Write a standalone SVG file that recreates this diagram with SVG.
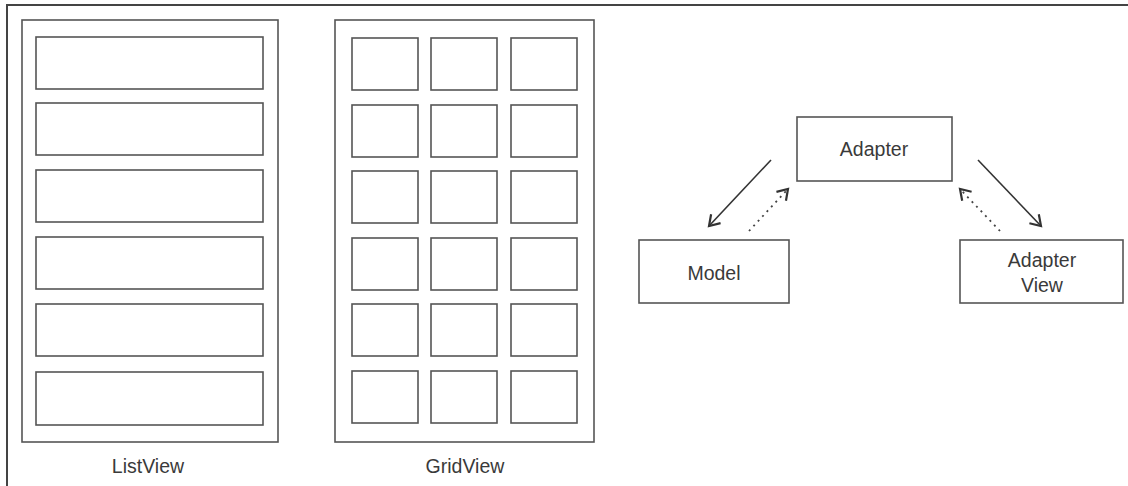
<svg xmlns="http://www.w3.org/2000/svg" width="1128" height="486" viewBox="0 0 1128 486">
<style>
.frame{fill:none;stroke:#444;stroke-width:2}
.box{fill:#fff;stroke:#555;stroke-width:1.6}
.lbl{font-family:"Liberation Sans",Arial,sans-serif;font-size:19.5px;fill:#3a3a3a;text-anchor:middle}
.solid{fill:none;stroke:#333;stroke-width:1.6}
.dot{fill:none;stroke:#444;stroke-width:1.8;stroke-dasharray:2 4.5}
</style>
<defs>
<marker id="ah" markerWidth="16" markerHeight="16" refX="12" refY="8" orient="auto" markerUnits="userSpaceOnUse">
<path d="M2,1.5 L12,8 L2,14.5" fill="none" stroke="#333" stroke-width="2.2"/>
</marker>
</defs>
<rect width="1128" height="486" fill="#fff"/>
<path class="frame" d="M7,486 V5 H1128"/>
<g id="listview">
<rect class="box" x="22" y="20" width="256" height="422"/>
<rect class="box" x="36" y="37" width="227" height="52"/>
<rect class="box" x="36" y="103" width="227" height="52"/>
<rect class="box" x="36" y="170" width="227" height="52"/>
<rect class="box" x="36" y="237" width="227" height="52"/>
<rect class="box" x="36" y="304" width="227" height="52"/>
<rect class="box" x="36" y="372" width="227" height="53"/>
<text class="lbl" x="148" y="473">ListView</text>
</g>
<g id="gridview">
<rect class="box" x="335" y="20" width="259" height="422"/>
<g id="gridcells">
<rect class="box" x="352" y="38" width="66" height="52"/><rect class="box" x="431" y="38" width="66" height="52"/><rect class="box" x="511" y="38" width="66" height="52"/>
<rect class="box" x="352" y="105" width="66" height="52"/><rect class="box" x="431" y="105" width="66" height="52"/><rect class="box" x="511" y="105" width="66" height="52"/>
<rect class="box" x="352" y="171" width="66" height="52"/><rect class="box" x="431" y="171" width="66" height="52"/><rect class="box" x="511" y="171" width="66" height="52"/>
<rect class="box" x="352" y="238" width="66" height="52"/><rect class="box" x="431" y="238" width="66" height="52"/><rect class="box" x="511" y="238" width="66" height="52"/>
<rect class="box" x="352" y="304" width="66" height="52"/><rect class="box" x="431" y="304" width="66" height="52"/><rect class="box" x="511" y="304" width="66" height="52"/>
<rect class="box" x="352" y="371" width="66" height="52"/><rect class="box" x="431" y="371" width="66" height="52"/><rect class="box" x="511" y="371" width="66" height="52"/>
</g>
<text class="lbl" x="465" y="473">GridView</text>
</g>
<g id="adapter">
<rect class="box" x="797" y="117" width="155" height="64"/>
<text class="lbl" x="874" y="156">Adapter</text>
</g>
<g id="model">
<rect class="box" x="639" y="240" width="150" height="63"/>
<text class="lbl" x="714" y="280">Model</text>
</g>
<g id="adapterview">
<rect class="box" x="960" y="240" width="163" height="63"/>
<text class="lbl" x="1042" y="267">Adapter</text>
<text class="lbl" x="1042" y="292">View</text>
</g>
<g id="connectors">
<line class="solid" x1="771" y1="160" x2="709" y2="226" marker-end="url(#ah)"/>
<line class="dot" x1="749" y1="231" x2="788" y2="189" marker-end="url(#ah)"/>
<line class="solid" x1="978" y1="160" x2="1041" y2="226" marker-end="url(#ah)"/>
<line class="dot" x1="1000" y1="231" x2="960" y2="189" marker-end="url(#ah)"/>
</g>
</svg>
